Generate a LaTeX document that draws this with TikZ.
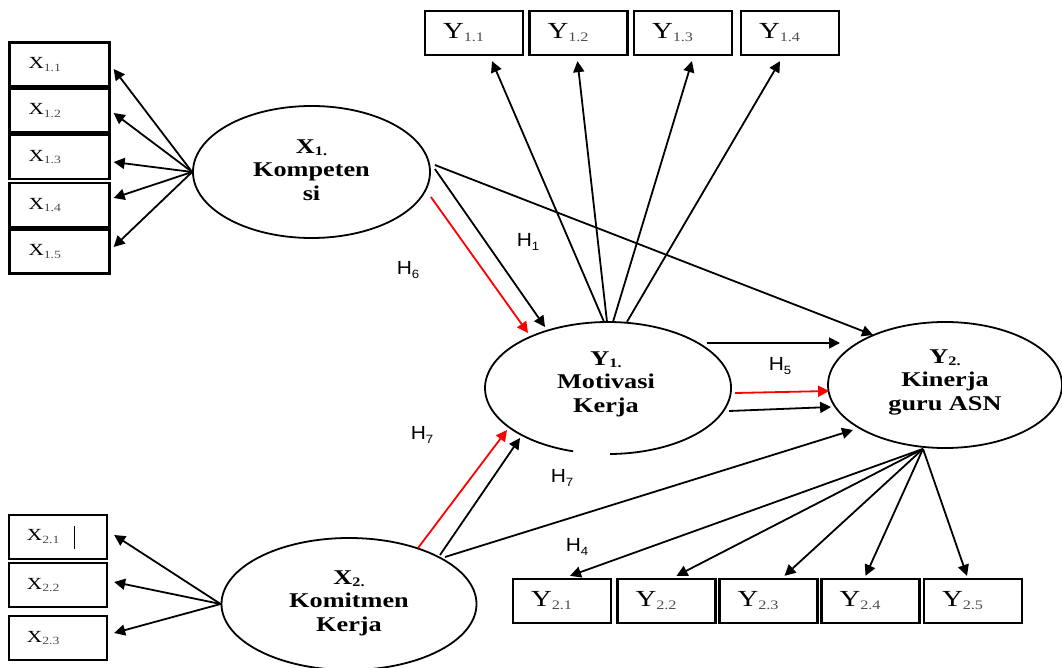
\documentclass[tikz,border=0pt]{standalone}
\usepackage{fontspec}
\setmainfont{Liberation Serif}[FakeStretch=1.25]
\newfontfamily\hfont{Liberation Sans}[FakeStretch=1.1]
\usetikzlibrary{shapes.geometric,arrows.meta}
\newcommand{\xlab}[1]{{\fontsize{17}{17}\selectfont X\raisebox{-2.5pt}{\fontsize{11}{11}\selectfont\color{black!70}#1}}}
\newcommand{\ylab}[1]{{\fontsize{23}{23}\selectfont Y\raisebox{-3pt}{\fontsize{13}{13}\selectfont\color{black!70}#1}}}
\newcommand{\hlab}[1]{H\raisebox{-3.5pt}{\fontsize{12}{12}\selectfont #1}}
\newcommand{\elab}[2]{#1\raisebox{-2pt}{\fontsize{13}{13}\selectfont #2}}
\tikzset{
  box/.style={draw, line width=2.3pt, minimum width=98pt, minimum height=44pt, inner sep=0pt, text width=62pt, align=left},
  ell/.style={ellipse, draw, line width=1.8pt, inner sep=0pt},
  ellnd/.style={ellipse, inner sep=0pt},
  arr/.style={line width=1.8pt, -{Triangle[length=11pt,width=11pt]}},
  redarr/.style={arr, red},
  hl/.style={font=\hfont\fontsize{19}{19}\selectfont, inner sep=0pt},
  etext/.style={align=center, font=\bfseries\fontsize{21}{23.5}\selectfont, inner sep=0pt}
}
\begin{document}
\begin{tikzpicture}[x=1pt,y=-1pt]
\useasboundingbox (0,0) rectangle (1062,668);
% X1 indicator boxes
\node[box, minimum width=100pt] (X11) at (59.5,64.5) {\xlab{1.1}};
\node[box, minimum width=100pt] (X12) at (59.5,110.5) {\xlab{1.2}};
\node[box, minimum width=100pt] (X13) at (59.5,157) {\xlab{1.3}};
\node[box, minimum width=100pt] (X14) at (59.5,205) {\xlab{1.4}};
\node[box, minimum width=100pt] (X15) at (59.5,251.5) {\xlab{1.5}};
% X2 indicator boxes
\node[box] (X21) at (58,537) {\xlab{2.1}\hspace{14pt}\rule[-8pt]{1.8pt}{23pt}};
\node[box] (X22) at (58,585) {\xlab{2.2}};
\node[box] (X23) at (58,638) {\xlab{2.3}};
% Y1 indicator boxes
\node[box] (Y11) at (474,33) {\ylab{1.1}};
\node[box] (Y12) at (578.5,33) {\ylab{1.2}};
\node[box] (Y13) at (683,33) {\ylab{1.3}};
\node[box] (Y14) at (790,33) {\ylab{1.4}};
% Y2 indicator boxes
\node[box] (Y21) at (562,601) {\ylab{2.1}};
\node[box] (Y22) at (666.5,601) {\ylab{2.2}};
\node[box] (Y23) at (768.5,601) {\ylab{2.3}};
\node[box] (Y24) at (870.5,601) {\ylab{2.4}};
\node[box] (Y25) at (973,601) {\ylab{2.5}};
% latent variables
\node[ell, minimum width=237pt, minimum height=132pt] (X1) at (311.5,172) {};
\node[etext] (X1t) at (311.5,170) {\elab{X}{1.}\\Kompeten\\si};
\node[ellnd, minimum width=246pt, minimum height=132pt] (Y1) at (608,388) {};
\draw[line width=1.8pt] (573.1,451.3) arc[start angle=106.5, end angle=449, x radius=123, y radius=66];
\node[etext] (Y1t) at (606,384) {\elab{Y}{1.}\\Motivasi\\Kerja};
\node[ell, minimum width=234pt, minimum height=126pt] (Y2) at (945,385) {};
\node[etext] (Y2t) at (945,382) {\elab{Y}{2.}\\Kinerja\\guru ASN};
\node[ell, minimum width=255pt, minimum height=132pt] (X2) at (349,604) {};
\node[etext] (X2t) at (349,603) {\elab{X}{2.}\\Komitmen\\Kerja};
% X1 -> indicators
\draw[arr] (X1.west) -- ([xshift=3pt,yshift=-4.5pt]X11.east);
\draw[arr] (X1.west) -- ([xshift=3pt,yshift=-2.5pt]X12.east);
\draw[arr] (X1.west) -- ([xshift=3pt,yshift=-5pt]X13.east);
\draw[arr] (X1.west) -- ([xshift=3pt,yshift=7pt]X14.east);
\draw[arr] (X1.west) -- ([xshift=3pt,yshift=4.5pt]X15.east);
% X2 -> indicators
\draw[arr] (X2.west) -- ([xshift=6pt,yshift=2pt]X21.east);
\draw[arr] (X2.west) -- ([xshift=6pt,yshift=3pt]X22.east);
\draw[arr] (X2.west) -- ([xshift=6pt,yshift=5pt]X23.east);
% Y1 -> indicators
\draw[arr] ([xshift=-4pt]Y1.north) -- ([xshift=18pt,yshift=-5pt]Y11.south);
\draw[arr] ([xshift=-1pt]Y1.north) -- ([xshift=-1pt,yshift=-5pt]Y12.south);
\draw[arr] ([xshift=5pt]Y1.north) -- ([xshift=9pt,yshift=-5pt]Y13.south);
\draw[arr] ([xshift=19pt]Y1.north) -- ([xshift=-10pt,yshift=-5pt]Y14.south);
% Y2 -> indicators
\draw[arr] ([xshift=-22pt]Y2.south) -- ([xshift=8pt,yshift=2pt]Y21.north);
\draw[arr] ([xshift=-22pt]Y2.south) -- ([xshift=10pt,yshift=2pt]Y22.north);
\draw[arr] ([xshift=-22pt]Y2.south) -- ([xshift=16pt,yshift=2pt]Y23.north);
\draw[arr] ([xshift=-22pt]Y2.south) -- ([xshift=-5pt,yshift=2pt]Y24.north);
\draw[arr] ([xshift=-22pt]Y2.south) -- ([xshift=-6pt,yshift=2pt]Y25.north);
% structural paths
\draw[redarr] ([yshift=-25pt]X1.east) -- ([xshift=-80pt,yshift=55pt]Y1.center);
\draw[arr] ([xshift=4pt,yshift=3pt]X1.east) -- ([xshift=-63pt,yshift=61pt]Y1.center);
\draw[arr] ([xshift=4pt,yshift=7pt]X1.east) -- ([xshift=-72pt,yshift=50pt]Y2.center);
\draw[arr] ([xshift=99pt,yshift=45pt]Y1.center) -- ([xshift=-105pt,yshift=42pt]Y2.center);
\draw[redarr] ([xshift=4pt,yshift=-5pt]Y1.east) -- ([xshift=2pt,yshift=-6pt]Y2.west);
\draw[arr] ([xshift=121pt,yshift=-23pt]Y1.center) -- ([xshift=4pt,yshift=-22pt]Y2.west);
\draw[redarr] ([xshift=69pt,yshift=56pt]X2.center) -- ([xshift=-101pt,yshift=-42pt]Y1.center);
\draw[arr] ([xshift=91pt,yshift=49pt]X2.center) -- ([xshift=-88pt,yshift=-50pt]Y1.center);
\draw[arr] ([xshift=96pt,yshift=47pt]X2.center) -- ([xshift=-92pt,yshift=-45pt]Y2.center);
% hypothesis labels
\node[hl] (H6) at (408,270) {\hlab{6}};
\node[hl] (H1) at (528,242) {\hlab{1}};
\node[hl] (H5) at (780,366) {\hlab{5}};
\node[hl] (H7a) at (422,435) {\hlab{7}};
\node[hl] (H7b) at (562,478) {\hlab{7}};
\node[hl] (H4) at (577,547) {\hlab{4}};
\end{tikzpicture}
\end{document}
